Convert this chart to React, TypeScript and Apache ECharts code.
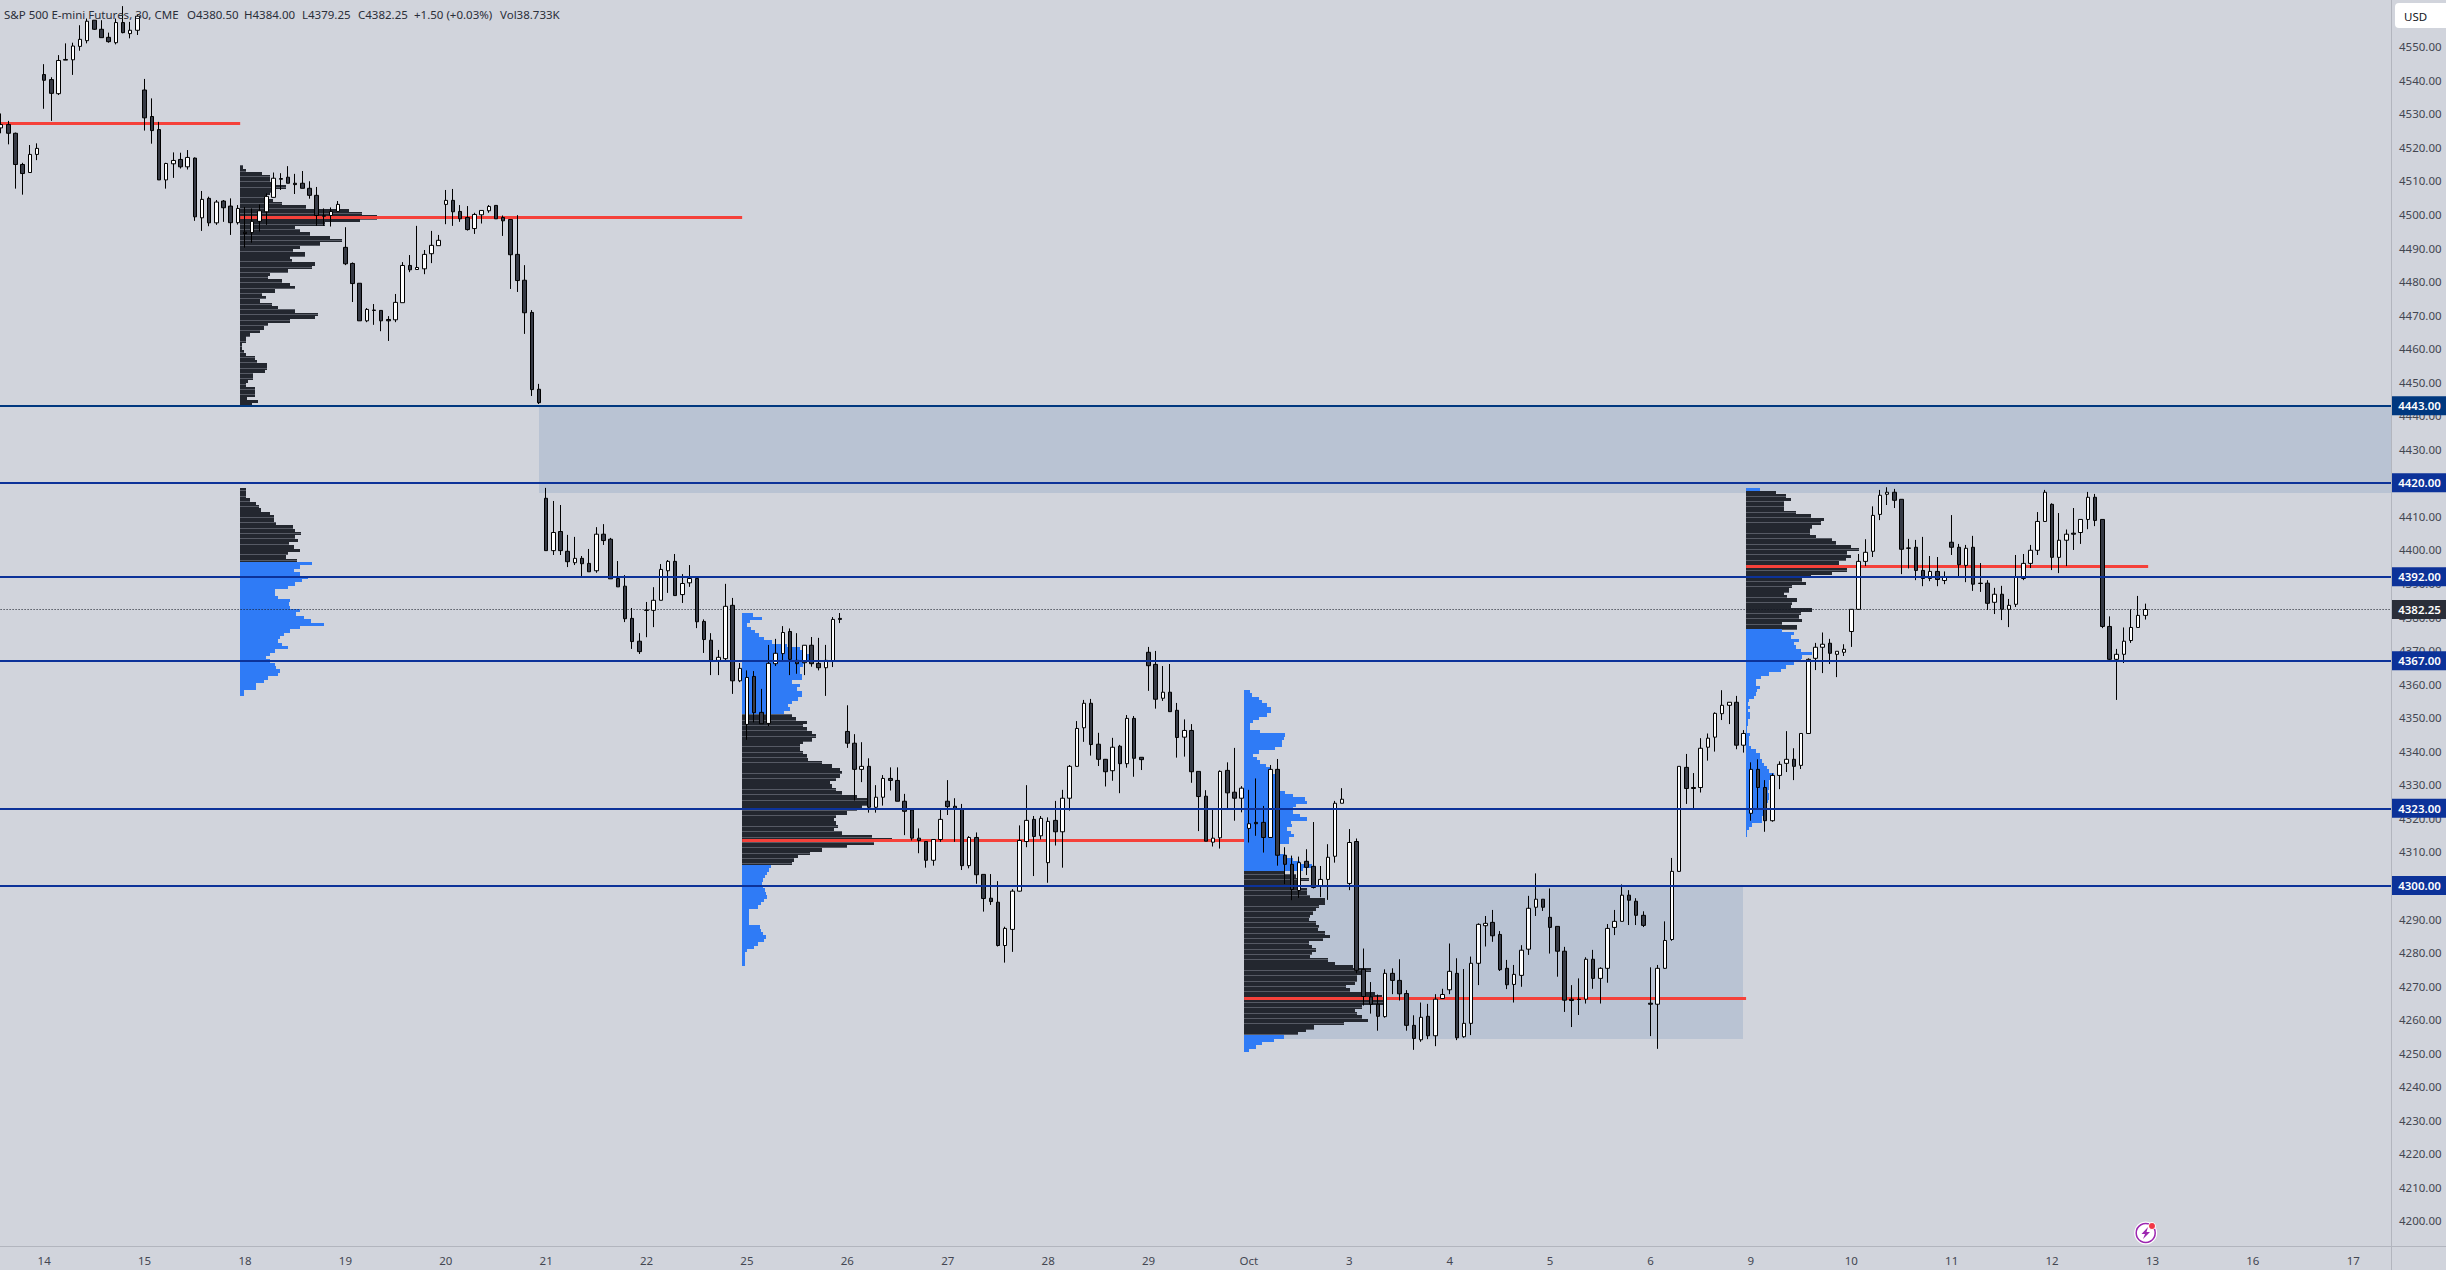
import React, { useEffect, useRef } from "react";
import * as echarts from "echarts";

// ---------- values ----------
const legendParts = [
  "S&P 500 E-mini Futures, 30, CME", "O4380.50", "H4384.00", "L4379.25", "C4382.25", "+1.50 (+0.03%)", "Vol38.733K",
];
const dayLabels = ["14","15","18","19","20","21","22","25","26","27","28","29","Oct","3","4","5","6","9","10","11","12","13","16","17"];
const priceLevels = [4443, 4420, 4392, 4367, 4323, 4300];
const levelColors = ["#00387f", "#0c3299", "#0c3299", "#0c3299", "#0c3299", "#0c3299"];
const lastPrice = 4382.25;

// each candle: [open, high, low, close]
const candlesSep14to15 = [
[4525.8,4530.1,4524.2,4526.8],[4526.8,4527.9,4520.9,4524.2],[4524.2,4524.4,4507.7,4514.9],[4514.9,4515.4,4505.9,4512.2],[4512.5,4520.7,4512.4,4517.9],[4517.9,4521.2,4516.2,4519.7],
[4541.7,4544.8,4531.5,4540],[4540.2,4540.9,4527.9,4536.1],[4536,4547.5,4535.6,4545.9],[4546,4551,4546,4546.2],[4546.1,4551.2,4541.6,4550.2],[4550.1,4556.4,4548.8,4552.2],[4551.8,4558.4,4551,4557.6],[4557.9,4557.9,4555,4555.2],[4555.2,4557.9,4552.7,4552.7],[4552.8,4554.2,4551.2,4551.5],[4551.2,4558.4,4550.7,4557.2],[4557.2,4562.1,4554,4554.2],[4553.9,4557.4,4552.5,4554.9],[4554.9,4559.4,4553.5,4559.1],
[4537.1,4540.4,4525,4528.8],[4529.2,4534.6,4521.1,4525],[4525.3,4527.6,4510.3,4510.3],[4510.3,4515.4,4507.7,4515.2],[4515.1,4518.5,4510.9,4516.1],[4516.4,4518.4,4513.7,4514.2],[4514.2,4519.2,4513.4,4517],[4516.8,4517,4498.1,4499.3],[4499,4507,4495.1,4504.5],[4504.8,4505.3,4496.5,4497.5],[4497.5,4504.3,4496.9,4503.7],[4504,4504.3,4497.8,4502],
[4502.5,4504.8,4493.9,4497.55],[4497.55,4502.8,4497,4501.8],[4494.7,4502.2,4490.1,4494.3],
];
const candlesSep18to20 = [
[4494.6,4501.8,4491.6,4497.95],[4497.95,4503,4494.9,4501.1],[4500.8,4506.3,4496.9,4505.4],[4505.1,4512.5,4505,4510.8],[4510.7,4512.3,4507.3,4510.5],[4511.1,4514.4,4509.3,4509.3],[4509.3,4512.1,4506.1,4508.9],[4509.3,4512.95,4507.8,4507.8],[4507.8,4509.9,4504.7,4505.7],[4505.7,4508.2,4496.6,4499.7],[4499.6,4501.8,4496.6,4499.5],[4499.7,4502.1,4496.4,4500.9],[4500.9,4504,4500.8,4503],
[4490.2,4496.2,4484.9,4485.3],[4485.4,4485.7,4473.9,4479.4],[4479.5,4479.5,4468.3,4468.3],[4468.3,4472.1,4467.9,4471.7],[4471.5,4473.3,4467.1,4471.4],[4471.4,4471.4,4465.2,4468.3],[4468.7,4469.7,4462.3,4468.3],[4468.6,4476.3,4467.9,4473.8],[4473.7,4485.8,4473.7,4484.8],[4484.8,4487.9,4482.8,4483.5],[4483.6,4496.6,4483.6,4484.2],[4483.8,4489.4,4482.2,4488.1],[4488.3,4495.1,4485.5,4490.8],[4490.7,4493.9,4490.7,4492.3],
[4503,4507.3,4497.1,4504.2],[4504.2,4507.6,4496.6,4500.8],[4500.9,4502.8,4497.8,4498.7],[4499.1,4502.5,4495.2,4495.5],[4495.8,4500.5,4494.2,4500],[4499.9,4501.2,4497.3,4501.2],[4501.1,4502.8,4500.5,4502.4],[4502.7,4502.7,4498.7,4498.7],[4499.1,4499.7,4493.6,4498.1],[4498.5,4498.5,4477.8,4488],[4488.1,4499.8,4476.9,4480.3],[4480.4,4484.9,4464.4,4470.7],[4470.8,4471.5,4445.9,4447.8],[4447.9,4449.5,4443.5,4443.9],
];
const candlesSep21to25 = [
[4415.4,4418.5,4399.8,4399.8],[4399.8,4414.6,4398.5,4405.2],[4405.5,4413.4,4398.5,4399.8],[4399.6,4404.5,4394.9,4396.5],[4396.2,4403.9,4395.5,4397.5],[4397.5,4398.2,4392,4395.9],[4396,4400.3,4393.5,4393.5],[4393.8,4406.8,4393.2,4404.7],[4404.7,4407.7,4401.5,4402.8],[4403.2,4403.6,4391.4,4391.4],[4391.5,4396.7,4389,4389],[4389.2,4392.5,4378.5,4379.5],[4379.6,4382.7,4370.5,4372.7],[4372.8,4375.2,4369,4369.7],
[4382.1,4384.5,4374,4382],[4382,4388.9,4377,4385],[4385,4395.8,4385,4394.2],[4393.8,4397,4387.2,4396.6],[4396.6,4398.8,4386.4,4386.4],[4386.7,4392.8,4384.2,4390],[4390.2,4395.5,4389,4391.5],[4391.5,4391.5,4376.7,4378.6],[4378.7,4379.3,4369.3,4373.3],[4373.1,4375.2,4362.7,4367.1],[4367.1,4370.2,4362.7,4368],[4367.6,4389.9,4366.7,4383.2],[4383.5,4385.7,4357.1,4361],[4361,4366.3,4360.6,4364.7],
[4348,4364.1,4343.4,4362],[4362.3,4363.9,4348.6,4351.5],[4351.6,4358.6,4348.2,4348.2],[4348.3,4371.7,4347.5,4366.2],[4366.1,4373.5,4365.4,4369.2],[4369.1,4377.3,4366.9,4375.4],[4375.7,4376.6,4362.7,4367.4],[4367.1,4375.2,4363.1,4366.1],[4366.4,4371.6,4362.7,4371.6],[4371.6,4374.06,4365.2,4366.1],[4366.2,4373.8,4364.1,4364.9],[4364.9,4371.7,4356.5,4367.1],[4367,4380,4365.1,4379.3],[4379.6,4381.2,4378.2,4379.3],
];
const candlesSep26to29 = [
[4345.9,4353.7,4341,4342.4],[4342.4,4345.1,4325.3,4334.6],[4334.6,4342.7,4330.8,4335.5],[4335.5,4337.9,4321.7,4323.3],[4323.3,4329.9,4321.7,4326.3],[4326.3,4332.9,4323.8,4331.9],[4331.9,4335.2,4328.3,4331.3],[4331.3,4335.2,4325.1,4325.1],[4325.1,4327.3,4315,4322.1],[4322.5,4322.5,4313.4,4314.1],[4314.1,4317,4309.6,4313.4],[4313.1,4313.1,4305.3,4307.5],[4307.5,4313.7,4305.9,4313.7],[4313.7,4322.5,4313,4319.7],
[4325.1,4331.4,4321,4323.5],[4323.6,4326,4313,4322.7],[4322.7,4324.3,4304.6,4305.9],[4305.9,4314.7,4305.1,4314.3],[4314.3,4315.8,4300.5,4303.2],[4303.3,4303.3,4292.2,4296.1],[4296.2,4303.4,4294.2,4295.2],[4295,4301.3,4281.8,4282.1],[4282.1,4287.7,4277,4287.2],[4286.9,4298.9,4280.2,4298.3],[4298.3,4317.9,4298.2,4313.4],[4313.1,4329.9,4311.4,4319.4],[4319.7,4320.7,4302.8,4314.6],[4314.8,4320.7,4313.7,4320],
[4306.8,4320.3,4300.8,4319.1],[4319.4,4325.2,4311.9,4316],[4316,4328.5,4305.3,4326],[4326,4335.9,4322.3,4335.5],[4335.5,4349,4335.4,4346.8],[4347,4355.3,4342.8,4354.3],[4354.3,4355.6,4338.7,4342],[4342.1,4345.5,4335.6,4337.6],[4337.6,4337.7,4329.5,4333.9],[4334.2,4344,4331.2,4341.2],[4341.5,4341.9,4327.5,4336.3],[4336.3,4350.8,4335.1,4349.8],[4349.8,4350.5,4332.4,4337.9],[4338.2,4338.2,4334.4,4337.5],
[4369.5,4371.1,4358,4365.5],[4365.9,4369.9,4352.7,4355.5],[4355.8,4365.4,4355,4357.6],[4357.6,4366,4351.8,4351.8],[4352.2,4354.4,4338.1,4344.1],[4344.2,4349.5,4338.4,4346.2],[4346.2,4348.1,4330.6,4333.9],[4334,4334,4316.2,4326.5],[4326.6,4328.4,4313.2,4313.2],[4312.9,4322.5,4311.6,4314.1],[4314.2,4334.3,4311,4334],[4334.3,4336.7,4322.7,4327.6],[4327.8,4341,4319.3,4326],[4326,4329.6,4321.8,4329],
];
const candlesOct2to6 = [
[4317,4328.5,4312.8,4318.4],[4318.8,4331.9,4314.8,4318.4],[4318.8,4323.7,4309.8,4314.3],[4314.3,4335.9,4314.3,4334.6],[4334.6,4337.7,4305.9,4309],[4309,4311.4,4300.4,4306.3],[4306.3,4308.9,4295.6,4298.8],[4298.5,4308.6,4296.3,4306.8],[4307.2,4310.8,4303.1,4305.4],[4305.7,4318.9,4299.1,4299.4],[4299.8,4305.8,4296.5,4301.8],[4301.8,4312.3,4295.7,4308.4],[4308.7,4325.2,4306.8,4324.5],[4324.5,4329,4324.5,4325.7],
[4300.6,4316.8,4298.6,4312.8],[4313.1,4314,4273.8,4274.7],[4275,4281.2,4264.2,4266.9],[4266.8,4271.2,4261.8,4264.6],[4264.6,4267.5,4256.7,4261],[4260.9,4275,4260.6,4273.8],[4273.8,4275.3,4267.6,4271.7],[4271.7,4278,4265.7,4267.7],[4267.8,4268.8,4256.7,4258.3],[4258.3,4261.3,4251,4254.4],[4254,4265.1,4253.4,4260.7],[4261,4264.7,4254.2,4255.2],[4255.2,4267.6,4252.1,4266.1],[4266.3,4269.2,4266.3,4267.5],
[4268.9,4282.7,4267.6,4274.4],[4273.8,4278.3,4253.9,4254.6],[4254.9,4275.1,4254.6,4258.9],[4258.9,4278.8,4255.4,4276.8],[4276.8,4288.7,4270.3,4288.4],[4288,4290.9,4281.8,4288.7],[4289,4292.7,4283.2,4285],[4285.4,4286.4,4274.5,4274.9],[4275.3,4277.8,4269.1,4270.4],[4270.5,4276.3,4265.1,4273.5],[4273.2,4282.2,4269.8,4280.7],[4281,4296.9,4279.3,4293.2],[4293.5,4303.6,4290.9,4295.9],[4295.9,4295.9,4292.4,4293.5],
[4290.5,4299.1,4279.7,4287.5],[4287.8,4287.8,4272.8,4280.4],[4280.4,4281.7,4262.3,4265.8],[4266.1,4270.3,4257.8,4265.7],[4266.1,4272.3,4261.4,4266],[4266.1,4278.6,4264.8,4278],[4278,4280.8,4269.2,4272.3],[4272.3,4275.6,4264.8,4275.3],[4275.3,4288.5,4271,4287.2],[4287.5,4292.7,4285.2,4289.3],[4289.3,4300.3,4289.3,4297.1],[4297.1,4298.6,4288.2,4295.6],[4295.3,4296.2,4288.2,4291.1],[4291.1,4292.3,4287.6,4288.1],
[4264.9,4275.6,4255.1,4264.6],[4264.6,4276.3,4251.3,4275.3],[4275.3,4289.3,4275.2,4283.6],[4283.9,4308.2,4283.5,4304.2],[4304.2,4335.5,4304.1,4335.5],[4335.2,4339.2,4324.3,4328.9],[4329.2,4333.5,4323,4328.9],[4329.2,4343.9,4327.7,4340.9],[4341.2,4345.3,4337.2,4343.9],[4344.2,4351.6,4339.9,4351.3],[4351.2,4358.2,4349.3,4353.7],[4353.7,4354.6,4348.1,4354.6],[4354.6,4356.5,4340.6,4341.8],[4341.8,4346.3,4339.6,4345.3],
];
const candlesOct9to12 = [
[4321.5,4336.7,4319.3,4334.6],[4334.6,4337.6,4322.7,4329.2],[4329.2,4331.4,4316,4319.3],[4319.3,4333.4,4319,4332.8],[4332.8,4337,4328.7,4336.1],[4336.4,4346,4333.8,4337.6],[4337.6,4340.9,4331.4,4335.5],[4335.8,4345.3,4334.7,4345.3],[4345.3,4367.7,4345.3,4367.4],[4367.7,4372.3,4364.2,4371],[4371,4375.4,4363.3,4371.9],[4372.2,4373.5,4366,4369.2],[4368.9,4369.8,4362.1,4369.8],[4369.5,4371.9,4368.4,4370.4],
[4375.7,4382.3,4371.1,4382.3],[4382.3,4398.8,4382.2,4396.6],[4396.6,4403.2,4395.2,4399.3],[4399.6,4413,4397.9,4410.3],[4410.6,4417.9,4408.9,4416.3],[4416.6,4418.7,4413.4,4417.2],[4417.2,4418.2,4412.5,4414.8],[4415.1,4415.1,4392.8,4400.2],[4400.6,4403.3,4394.5,4400.5],[4400.8,4403,4391,4393.9],[4393.9,4403.9,4389.2,4391.5],[4391.5,4398.2,4390.7,4393.6],[4393.6,4397.9,4389.2,4391.2],[4390.9,4393.6,4389.8,4391.8],
[4402.3,4410.4,4398.5,4400.8],[4400.8,4401.8,4392.2,4395.6],[4395.4,4401.5,4390.4,4400.5],[4400.8,4404.2,4387.8,4389.8],[4390.1,4396.1,4387.5,4390],[4390.1,4391,4382.1,4384.1],[4384.4,4388.7,4380.9,4386.8],[4386.8,4389.3,4379.1,4382.3],[4382.3,4385.4,4377,4383.5],[4383.8,4398.5,4383,4391.8],[4391.5,4398.8,4391,4396],[4396,4401.5,4394.6,4399.9],[4399.9,4411.3,4398.5,4408.5],[4408.5,4417.9,4408.4,4417.2],
[4413.6,4413.9,4394,4397.8],[4397.8,4411,4393.1,4402.9],[4402.9,4406.1,4395.2,4404.7],[4405,4412.5,4400,4404.7],[4405.2,4409.1,4401.8,4409.1],[4409.1,4417.3,4406.2,4415.7],[4415.7,4416.7,4407.1,4408.8],[4409.1,4409.1,4376.7,4377.2],[4377.2,4380.2,4366.7,4367.4],[4367.4,4370.5,4355.3,4368.9],[4368.9,4376.9,4366.3,4372.8],[4373,4382.3,4372.3,4376.9],[4376.9,4386.3,4376.9,4380.5],[4380.5,4384,4379.25,4382.25],
];

// volume profiles, one row per index point, top row first
const profileAValue = [3,6,22,30,30,33,46,32,30,27,33,42,66,109,122,137,120,85,55,60,70,90,102,80,60,53,65,50,52,75,72,48,30,28,42,50,55,35,22,26,20,32,38,55,78,75,50,28,24,20,10,6,6,2,2,4,6,15,17,27,27,25,13,13,8,6,15,15,15,7,18,12];
const profileBValue = [6,6,6,10,16,19,21,30,34,34,36,53,55,61,55,58,49,54,60,48,46,57];
const profileBLower = [72,60,54,60,68,62,55,48,35,35,38,50,49,50,60,56,64,71,84,60,50,44,40,38,42,48,35,30,26,30,35,36,40,38,28,24,16,16,4,4];
const profileCUpper = [11,20,8,5,9,13,17,22,30,45,58,64,70,72,62,61,58,58,60,60,50,58,55,60,60,56,50,46,48,42];
const profileCValue = [50,54,65,61,65,70,74,70,61,58,58,61,65,66,80,90,98,100,98,94,88,90,94,100,115,125,125,120,115,105,94,92,94,96,92,100,130,150,132,105,80,68,56,52,50];
const profileCLower = [29,27,25,23,21,20,21,23,24,25,22,19,16,7,7,7,7,7,18,19,21,24,22,16,12,5,3,3,3,3];
const profileDUpper = [6,8,15,18,23,27,27,23,15,9,6,6,16,41,40,38,38,31,15,9,13,16,22,27,27,31,32,33,34,35,41,49,61,63,52,49,49,56,63,47,48,43,47,50,45,45,34,31,34,41,49,56,68,59];
const profileDValue = [41,52,65,56,54,63,63,66,81,81,75,72,69,66,65,72,75,74,81,86,79,65,68,72,68,66,84,91,109,127,118,113,113,111,102,106,131,138,140,141,118,111,113,118,124,100,70,62,54];
const profileDLower = [40,30,18,12,5];
const profileEUpper = [14];
const profileEValue = [30,40,45,38,38,38,50,65,78,75,66,64,64,70,86,90,105,113,101,105,100,93,105,101,86,65,56,60,46,43,38,41,51,46,45,66,55,53,56,36,51];
const profileELower = [36,48,45,53,48,50,55,66,56,55,48,40,35,23,15,10,10,14,11,10,8,3,2,4,2,4,4,2,2,1,1,4,3,3,3,5,10,14,14,16,18,21,23,28,26,23,23,23,22,23,23,22,21,21,20,18,16,16,6,3,1,1];
const profileTops = [4514.2, 4417.87, 4380.6, 4357.8, 4418.07];
const profileStarts = [33.33, 33.33, 103.33, 173.33, 243.33];

// points of control: [from bar, to bar, price]
const pocLines = [[-0.5, 33.33, 4527.3],[33.33, 103.33, 4499.2],[103.33, 173.33, 4313.5],[173.33, 243.33, 4266.4],[243.33, 299.4, 4395.1]];
// shaded zones: [from bar, to bar, upper price, lower price]
const shadedZones = [[75, 333.28, 4443, 4417],[173.33, 242.9, 4300, 4254.2]];

// ---------- layout and colours ----------
const W = 2446, H = 1270;
const SHIFT = 10; // the chart div starts left of the page, so that the first band can be cut off
const PX_PER_BAR = 7.171;
const STRIPE_EVERY = 5.33;
const BG = "#d1d4dc", AXIS = "#b2b5be", TEXT = "#434651", INK = "#2a2e39";
const DARK_PROFILE = "#23272f", DARK_STRIPE = "#565a64", BLUE_PROFILE = "#2f7bf6", ZONE = "#b9c3d3", RED = "#f5413a";
const FONT = "'Noto Sans', 'Open Sans', sans-serif";

const allCandles = [...candlesSep14to15, ...candlesSep18to20, ...candlesSep21to25, ...candlesSep26to29, ...candlesOct2to6, ...candlesOct9to12];
const categories: string[] = Array.from({ length: 334 }, () => "");
dayLabels.forEach((d, k) => { categories[6 + 14 * k] = d; });

function buildRows(idx: number, upper: number[], value: number[], lower: number[]) {
  const rows: number[][] = [];
  let p = profileTops[idx];
  const push = (list: number[], dark: number) => list.forEach((v) => {
    rows.push([profileStarts[idx], p + 0.5, p - 0.5, v, dark]);
    p -= 1;
  });
  push(upper, 0); push(value, 1); push(lower, 0);
  return rows;
}
const profileRows = [
  ...buildRows(0, [], profileAValue, []),
  ...buildRows(1, [], profileBValue, profileBLower),
  ...buildRows(2, profileCUpper, profileCValue, profileCLower),
  ...buildRows(3, profileDUpper, profileDValue, profileDLower),
  ...buildRows(4, profileEUpper, profileEValue, profileELower),
];

const tag = (value: number, color: string) => ({
  show: true, position: "end", distance: -1, formatter: value.toFixed(2), color: "#fff",
  backgroundColor: color, padding: [4, 6.5, 3, 6.5], fontSize: 11.5, fontWeight: 600, fontFamily: FONT,
});

export default function App() {
  const ref = useRef<HTMLDivElement>(null);
  useEffect(() => {
    document.body.style.margin = "0";
    document.body.style.background = BG;
    document.body.style.overflow = "hidden";
    const chart = echarts.init(ref.current!, null, { renderer: "svg" });
    const legendX = [4, 187, 244, 302, 358, 414, 500];
    const option: any = {
      animation: false,
      backgroundColor: BG,
      grid: { left: SHIFT - 2.415, top: 0, width: 2395.1, height: 1254.5, containLabel: false },
      xAxis: [
        {
          type: "category", data: categories, position: "bottom", offset: -8.5,
          axisLine: { show: false }, axisTick: { show: false }, splitLine: { show: false },
          axisLabel: {
            interval: (_: number, v: string) => v !== "", color: TEXT, fontSize: 11.5, margin: 8, fontFamily: FONT,
            hideOverlap: false, showMinLabel: true, showMaxLabel: true,
          },
        },
        { type: "value", min: -0.5, max: 333.5, show: false, position: "top", splitLine: { show: false }, scale: true },
      ],
      yAxis: {
        type: "value", position: "right", min: 4190, max: 4563.925, interval: 10, offset: -1.7,
        axisLine: { show: false }, axisTick: { show: false }, splitLine: { show: false },
        axisLabel: {
          color: TEXT, fontSize: 11.5, margin: 8, fontFamily: FONT, showMinLabel: true, showMaxLabel: true,
          formatter: (v: number) => (v < 4200 || v > 4550 ? "" : v.toFixed(2)),
        },
      },
      series: [
        {
          type: "custom", name: "zones", xAxisIndex: 1, yAxisIndex: 0, z: 1, clip: true, data: shadedZones,
          encode: { x: [0, 1], y: [2, 3] },
          renderItem: (_: any, api: any) => {
            const a = api.coord([api.value(0), api.value(2)]);
            const b = api.coord([api.value(1), api.value(3)]);
            return { type: "rect", shape: { x: Math.round(a[0]), y: Math.round(a[1]), width: Math.round(b[0]) - Math.round(a[0]), height: Math.round(b[1]) - Math.round(a[1]) }, style: { fill: ZONE } };
          },
        },
        {
          type: "custom", name: "volume profile", xAxisIndex: 1, yAxisIndex: 0, z: 2, clip: true, data: profileRows,
          encode: { x: 0, y: [1, 2] },
          renderItem: (_: any, api: any) => {
            const dark = api.value(4) === 1;
            const a = api.coord([api.value(0), api.value(1)]);
            const b = api.coord([api.value(0) + api.value(3) / PX_PER_BAR, api.value(2)]);
            const x = Math.round(a[0]);
            const width = Math.max(1, Math.round(b[0]) - x);
            const y0 = Math.round(a[1]);
            const y1 = Math.round(b[1]);
            const bar = { type: "rect", shape: { x, y: y0, width, height: y1 - y0 }, style: { fill: dark ? DARK_PROFILE : BLUE_PROFILE } };
            const stripeAt = Math.ceil(y0 / STRIPE_EVERY) * STRIPE_EVERY;
            if (!dark || stripeAt >= y1) return bar;
            return {
              type: "group",
              children: [bar, { type: "rect", shape: { x, y: Math.round(stripeAt), width, height: 1 }, style: { fill: DARK_STRIPE } }],
            };
          },
        },
        {
          type: "custom", name: "point of control", xAxisIndex: 1, yAxisIndex: 0, z: 3, clip: true, data: pocLines,
          encode: { x: [0, 1], y: 2 },
          renderItem: (_: any, api: any) => {
            const a = api.coord([api.value(0), api.value(2)]);
            const b = api.coord([api.value(1), api.value(2)]);
            const y = Math.round(a[1]) + 0.5;
            return { type: "line", shape: { x1: a[0], y1: y, x2: b[0], y2: y }, style: { stroke: RED, lineWidth: 3 } };
          },
          markLine: {
            silent: true, symbol: "none", z: 3, animation: false,
            data: [{
              yAxis: lastPrice,
              lineStyle: { color: "#131722", width: 1, type: [1, 2] },
              label: tag(lastPrice, INK),
            }],
          },
        },
        {
          type: "candlestick", name: "ES1!", xAxisIndex: 0, yAxisIndex: 0, z: 4, barWidth: 4,
          data: allCandles.map(([o, h, l, c]) => [o, c, l, h]),
          itemStyle: { color: "#ffffff", color0: "#363a45", borderColor: "#000000", borderColor0: "#000000", borderWidth: 1 },
          markLine: {
            silent: true, symbol: "none", z: 6, animation: false,
            data: priceLevels.map((p, i) => ({
              yAxis: p,
              lineStyle: { color: levelColors[i], width: 2, type: "solid" },
              label: tag(p, levelColors[i]),
            })),
          },
        },
      ],
      graphic: [{
        type: "group", x: SHIFT, y: 0, z: 20,
        children: [
          { type: "line", z: 20, silent: true, shape: { x1: 2391.5, y1: 0, x2: 2391.5, y2: H }, style: { stroke: AXIS, lineWidth: 1 } },
          { type: "line", z: 20, silent: true, shape: { x1: 0, y1: 1246.5, x2: W, y2: 1246.5 }, style: { stroke: AXIS, lineWidth: 1 } },
          ...legendParts.map((t, i) => ({
            type: "text", z: 21, silent: true, x: legendX[i], y: 14,
            style: { text: t, fill: INK, font: `11.5px ${FONT}`, verticalAlign: "middle" },
          })),
          { type: "rect", z: 21, silent: true, shape: { x: 2395, y: 3, width: 51, height: 25, r: [4, 0, 0, 4] }, style: { fill: "#ffffff" } },
          { type: "text", z: 22, silent: true, x: 2404, y: 16, style: { text: "USD", fill: "#131722", font: `11.5px ${FONT}`, verticalAlign: "middle" } },
          { type: "circle", z: 21, silent: true, shape: { cx: 2145.7, cy: 1233, r: 11.5 }, style: { fill: "#ffffff" } },
          { type: "circle", z: 22, silent: true, shape: { cx: 2145.7, cy: 1233, r: 9.5 }, style: { fill: "none", stroke: "#9c27b0", lineWidth: 1.5 } },
          { type: "polygon", z: 22, silent: true, shape: { points: [[2148, 1227], [2141.5, 1234], [2145, 1234], [2143, 1239], [2150, 1232], [2146.5, 1232]] }, style: { fill: "#9c27b0" } },
          { type: "circle", z: 23, silent: true, shape: { cx: 2152, cy: 1226, r: 3.5 }, style: { fill: "#f23645", stroke: "#ffffff", lineWidth: 1 } },
        ],
      }],
    };
    chart.setOption(option);
    return () => chart.dispose();
  }, []);
  return <div ref={ref} style={{ position: "absolute", left: -SHIFT, top: 0, width: W + SHIFT, height: H }} />;
}
